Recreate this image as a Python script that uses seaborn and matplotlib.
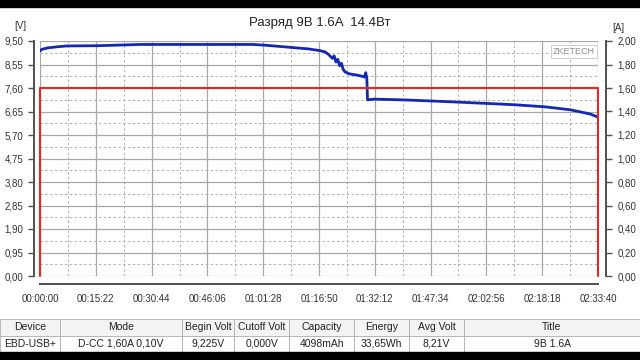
import numpy as np
import pandas as pd
import seaborn as sns
import matplotlib.pyplot as plt
from matplotlib.patches import Rectangle
from matplotlib.ticker import FixedLocator

# voltage curve (time in minutes, volts)
t_min = [0.0, 0.5, 2.0, 5.0, 7.4, 16.0, 27.5, 35.0, 45.0, 52.0, 58.6, 62.0,
         66.0, 70.0, 74.0, 77.1, 78.5, 79.5, 80.5, 81.0, 81.5, 82.0, 82.5,
         83.0, 83.5, 84.0, 85.0, 86.0, 87.0, 88.0, 89.0, 89.3, 89.7, 90.0,
         90.2, 92.0, 100.0, 107.0, 115.0, 124.0, 131.0, 139.0, 146.0, 151.5,
         153.67]
volts = [9.10, 9.16, 9.22, 9.27, 9.30, 9.31, 9.36, 9.36, 9.36, 9.36, 9.36, 9.33,
         9.28, 9.23, 9.18, 9.11, 9.06, 8.95, 8.80, 8.90, 8.65, 8.76, 8.50,
         8.60, 8.35, 8.25, 8.18, 8.15, 8.13, 8.10, 8.06, 8.04, 8.22, 8.00,
         7.12, 7.15, 7.12, 7.08, 7.03, 6.97, 6.92, 6.84, 6.72, 6.55,
         6.42]

# discharge current (A): on at 1.6 A for the whole run
cur_t_min = [0.0, 0.0, 153.67, 153.67]
amps = [0.0, 1.60, 1.60, 0.0]

x_labels = ["00:00:00", "00:15:22", "00:30:44", "00:46:06", "01:01:28", "01:16:50",
            "01:32:12", "01:47:34", "02:02:56", "02:18:18", "02:33:40"]
v_labels = ["0,00", "0,95", "1,90", "2,85", "3,80", "4,75", "5,70", "6,65",
            "7,60", "8,55", "9,50"]
a_labels = ["0,00", "0,20", "0,40", "0,60", "0,80", "1,00", "1,20", "1,40",
            "1,60", "1,80", "2,00"]

table_cols = ["Device", "Mode", "Begin Volt", "Cutoff Volt", "Capacity",
              "Energy", "Avg Volt", "Title"]
table_vals = ["EBD-USB+", "D-CC 1,60A 0,10V", "9,225V", "0,000V", "4098mAh",
              "33,65Wh", "8,21V", "9В 1.6А"]

sns.set_style("white")
plt.rcParams['font.family'] = ['Liberation Sans', 'DejaVu Sans']

volt_df = pd.DataFrame({"t": np.array(t_min) * 60, "V": volts})
cur_df = pd.DataFrame({"t": np.array(cur_t_min) * 60, "A": amps})

fig = plt.figure(figsize=(6.4, 3.6), dpi=100)
ax = fig.add_axes([40 / 640, 1 - 276 / 360, 558 / 640, 235 / 360])

step = 922
sns.lineplot(data=volt_df, x="t", y="V", ax=ax, color="#1428b4", lw=2.0,
             estimator=None, sort=False, zorder=4)

ax2 = ax.twinx()
ax2.plot(cur_df["t"], cur_df["A"], color="#e8281e", lw=1.5, zorder=3,
         clip_on=False)

ax.set_xlim(0, 10 * step)
ax.set_ylim(0, 9.5)
ax2.set_ylim(0, 2.0)

# grid: solid at major, dashed at minor
ax.xaxis.set_major_locator(FixedLocator([i * step for i in range(11)]))
ax.xaxis.set_minor_locator(FixedLocator([i * step + step / 2 for i in range(10)]))
ax.yaxis.set_major_locator(FixedLocator([0.95 * i for i in range(11)]))
ax.yaxis.set_minor_locator(FixedLocator([0.475 + 0.95 * i for i in range(10)]))
ax.set_xticklabels(x_labels)
ax.set_yticklabels(v_labels)
ax2.yaxis.set_major_locator(FixedLocator([0.2 * i for i in range(11)]))
ax2.set_yticklabels(a_labels)

ax.grid(which="major", color="#a8a8a8", lw=0.9, ls="-")
ax.grid(which="minor", color="#b0b0b0", lw=0.7, ls=(0, (2.5, 2.5)))
ax.set_axisbelow(True)

ax.set_xlabel("")
ax.set_ylabel("")
ax2.set_ylabel("")

for a in (ax, ax2):
    for s in a.spines.values():
        s.set_visible(False)
ax.spines["left"].set_visible(True)
ax.spines["left"].set_position(("outward", 4))
ax.spines["bottom"].set_visible(True)
ax.spines["bottom"].set_position(("outward", 6))
ax2.spines["right"].set_visible(True)
ax2.spines["right"].set_position(("outward", 6))
for s in (ax.spines["left"], ax.spines["bottom"], ax2.spines["right"]):
    s.set_color("#505050")
    s.set_linewidth(1.4)

ax.tick_params(axis="both", which="major", direction="out", length=4, width=1,
               color="#505050", labelsize=7, labelcolor="#333333", pad=4)
ax.tick_params(axis="both", which="minor", length=0)
ax.tick_params(axis="x", pad=3)
ax2.tick_params(axis="y", direction="out", length=4, width=1, color="#505050",
                labelsize=7, labelcolor="#333333", pad=4)

fig.text(20 / 640, 1 - 26 / 360, "[V]", fontsize=7, color="#333333",
         ha="center", va="center")
fig.text(618 / 640, 1 - 28 / 360, "[A]", fontsize=7, color="#333333",
         ha="center", va="center")
fig.text(0.5, 1 - 23 / 360, "Разряд 9В 1.6A  14.4Вт", fontsize=9.5,
         color="#222222", ha="center", va="center")
ax.text(0.995, 0.955, "ZKETECH", transform=ax.transAxes, ha="right", va="center",
        fontsize=6.5, color="#909090",
        bbox=dict(facecolor="white", edgecolor="#c8c8c8", lw=0.6, pad=1.5))

# summary table at the bottom
tax = fig.add_axes([0, 1 - 352 / 360, 1, 33 / 360])
tax.axis("off")
widths = np.array([60, 122, 52, 55, 65, 55, 55, 176]) / 640
tbl = tax.table(cellText=[table_vals], colLabels=table_cols, colWidths=widths,
                cellLoc="center", bbox=[0, 0, 1, 1])
tbl.auto_set_font_size(False)
for (r, c), cell in tbl.get_celld().items():
    cell.set_edgecolor("#b0b0b0")
    cell.set_linewidth(0.6)
    cell.get_text().set_fontsize(7.5)
    cell.get_text().set_color("#222222")
    cell.set_facecolor("#f4f4f4" if r == 0 else "white")

# black bars top and bottom of the screenshot
fig.patches.append(Rectangle((0, 1 - 7 / 360), 1, 7 / 360, transform=fig.transFigure,
                             color="black", zorder=10))
fig.patches.append(Rectangle((0, 0), 1, 8 / 360, transform=fig.transFigure,
                             color="black", zorder=10))

fig.savefig("out.png", dpi=100)
